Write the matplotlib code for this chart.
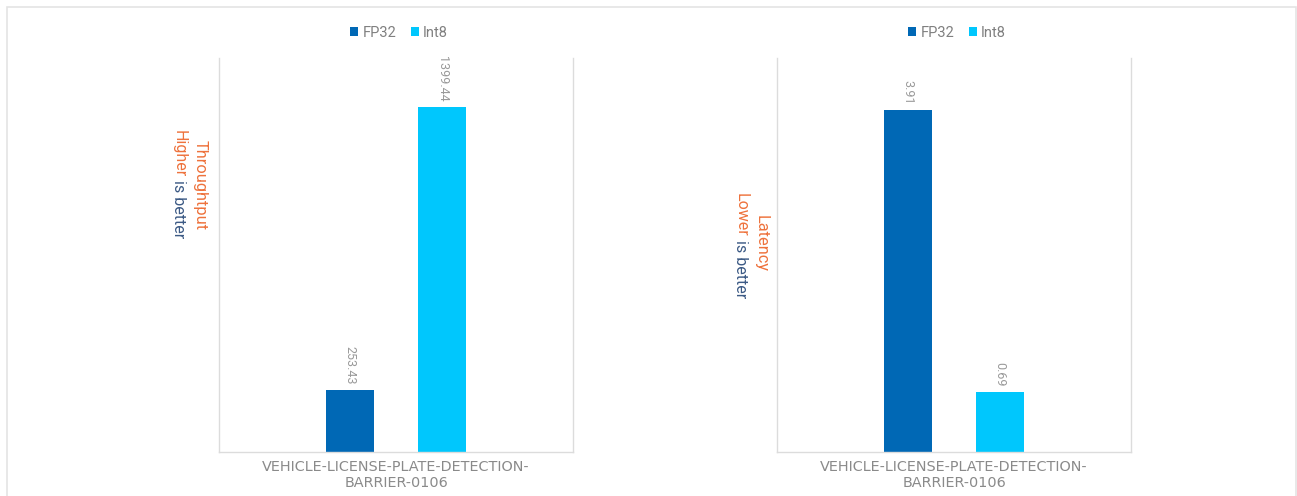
import matplotlib
matplotlib.use("Agg")
import matplotlib.pyplot as plt
from matplotlib.patches import Rectangle

# data
category = "VEHICLE-LICENSE-PLATE-DETECTION-\nBARRIER-0106"
series = ["FP32", "Int8"]
throughput = [253.43, 1399.44]
latency = [3.91, 0.69]

colors = ["#0068B5", "#00C7FD"]
orange = "#EE723C"
navy = "#3C5A85"
gray = "#9A9A9A"

W, H = 1297, 496
fig = plt.figure(figsize=(W / 100, H / 100), dpi=100)
fig.patch.set_facecolor("white")

# outer light frame
fig.patches.append(Rectangle((7 / W, -0.05), 1289 / W, 1.05 - 7 / H,
                             transform=fig.transFigure, fill=False,
                             edgecolor="#e4e4e4", linewidth=1.2))


def draw_panel(left_px, values, ymax, title, first_word, rest, title_x, line2_x, title_top, line2_top):
    ax = fig.add_axes([left_px / W, (H - 452) / H, 354 / W, 394 / H])
    offsets = [-0.13, 0.13]
    for off, v, c, name in zip(offsets, values, colors, series):
        ax.bar(off, v, width=0.138, color=c, label=name)
        ax.text(off, v + ymax * 0.014, f"{v:.2f}", rotation=-90, ha="center", va="bottom",
                color=gray, fontsize=9, family="Roboto")
    ax.set_xlim(-0.5, 0.5)
    ax.set_ylim(0, ymax)
    ax.set_yticks([])
    ax.set_xticks([0])
    ax.set_xticklabels([category], color="#8a8a8a", fontsize=10.4, family="DejaVu Sans",
                       linespacing=1.15)
    ax.tick_params(axis="x", length=0, pad=6)
    for s in ["left", "right", "bottom"]:
        ax.spines[s].set_color("#dcdcdc")
        ax.spines[s].set_linewidth(1.0)
    ax.spines["top"].set_visible(False)

    ax.legend(loc="center", bbox_to_anchor=((left_px + 180) / W, (H - 33) / H),
              bbox_transform=fig.transFigure, ncol=2, frameon=False,
              handlelength=0.55, handleheight=0.6, columnspacing=1.0, handletextpad=0.3,
              prop={"family": "Roboto", "size": 10.5}, labelcolor="#808080")

    # rotated axis titles
    fig.text(title_x / W, (H - title_top) / H, title, rotation=-90, ha="center", va="top",
             color=orange, fontsize=11.8, family="Roboto")
    t1 = fig.text(line2_x / W, (H - line2_top) / H, first_word, rotation=-90, ha="center",
                  va="top", color=orange, fontsize=11.5, family="Roboto")
    fig.canvas.draw()
    bb = t1.get_window_extent()
    fig.text(line2_x / W, (bb.y0 - 3) / H, rest.strip(), rotation=-90, ha="center", va="top",
             color=navy, fontsize=11.5, family="Roboto")
    return ax


draw_panel(219, throughput, 1600, "Throughtput", "Higher", " is better", 200, 179, 140, 130)
draw_panel(777, latency, 4.5, "Latency", "Lower", " is better", 761, 741, 215, 193)

fig.savefig("out.png", dpi=100, facecolor="white")
